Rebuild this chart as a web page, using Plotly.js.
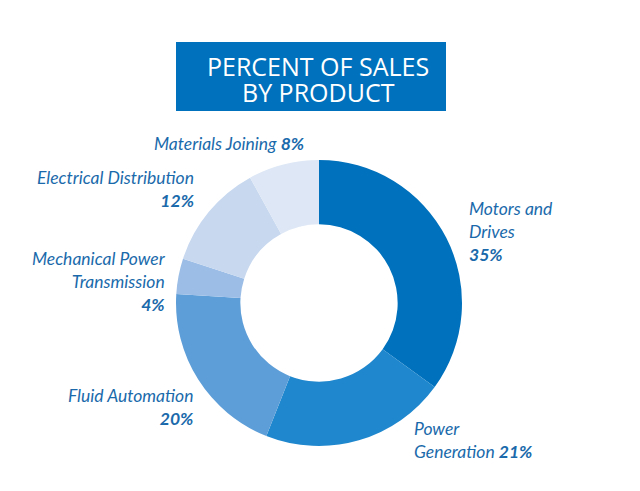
<!DOCTYPE html>
<html>
<head>
<meta charset="utf-8">
<script src="https://cdn.plot.ly/plotly-3.0.1.min.js"></script>
<style>html,body{margin:0;padding:0;background:#fff;}#chart{width:640px;height:491px;}</style>
</head>
<body>
<div id="chart"></div>
<script>
const categories = ["Motors and Drives", "Power Generation", "Fluid Automation", "Mechanical Power Transmission", "Electrical Distribution", "Materials Joining"];
const values = [35, 21, 20, 4, 12, 8];
const colors = ["#0071bc", "#1f87cd", "#5e9ed8", "#9bbde6", "#c7d8ef", "#dde7f5"];
const labelLines = ["Motors and<br>Drives<br>", "Power<br>Generation ", "Fluid Automation<br>", "Mechanical Power<br>Transmission<br>", "Electrical Distribution<br>", "Materials Joining "];
const titleLines = ["PERCENT OF SALES", "BY PRODUCT"];

// label placements in pixels (x, y center, anchor)
const labelPos = [
  {x: 467, y: 231, anchor: "left"},
  {x: 412, y: 440, anchor: "left"},
  {x: 195, y: 407, anchor: "right"},
  {x: 168, y: 281, anchor: "right"},
  {x: 196, y: 189, anchor: "right"},
  {x: 306, y: 143, anchor: "right"}
];
const titleY = [66, 92];
const W = 640, H = 491;
const cx = 319, cy = 303, R = 143;

const annotations = categories.map((c, i) => ({
  xref: "paper", yref: "paper",
  x: labelPos[i].x / W, y: 1 - labelPos[i].y / H,
  xanchor: labelPos[i].anchor, yanchor: "middle", align: labelPos[i].anchor,
  showarrow: false,
  text: labelLines[i] + "<b>" + values[i] + "%</b>",
  font: {family: "Lato, 'Open Sans', sans-serif", size: 17.5, color: "#1a6aab", style: "italic"}
}));
titleLines.forEach((t, i) => annotations.push({
  xref: "paper", yref: "paper", x: 318 / W, y: 1 - titleY[i] / H,
  xanchor: "center", yanchor: "middle", showarrow: false,
  text: t,
  font: {family: "'Open Sans', 'Noto Sans', sans-serif", size: 25, color: "#ffffff"}
}));

const data = [{
  type: "pie",
  labels: categories,
  values: values,
  sort: false,
  direction: "clockwise",
  rotation: 0,
  hole: 0.55,
  textinfo: "none",
  hoverinfo: "label+percent",
  marker: {colors: colors, line: {color: "#ffffff", width: 0}},
  domain: {x: [(cx - R) / W, (cx + R) / W], y: [1 - (cy + R) / H, 1 - (cy - R) / H]},
  showlegend: false
}];

const layout = {
  width: W, height: H,
  margin: {l: 0, r: 0, t: 0, b: 0},
  paper_bgcolor: "#ffffff",
  showlegend: false,
  shapes: [{type: "rect", xref: "paper", yref: "paper", x0: 176 / W, x1: 446 / W, y0: 1 - 111 / H, y1: 1 - 42 / H, fillcolor: "#0071bc", line: {width: 0}, layer: "below"}],
  annotations: annotations
};
Plotly.newPlot("chart", data, layout, {displayModeBar: false, staticPlot: true});
</script>
</body>
</html>
